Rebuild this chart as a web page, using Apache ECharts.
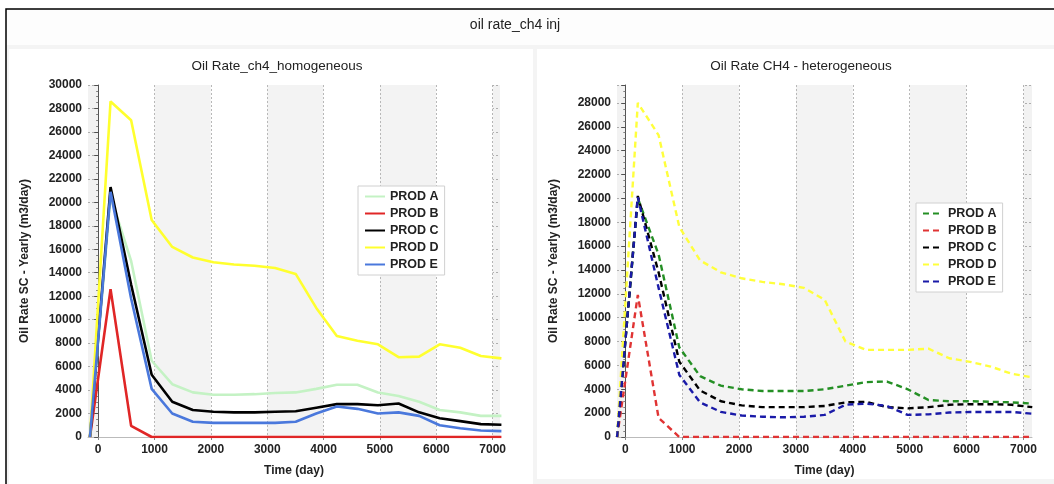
<!DOCTYPE html>
<html>
<head>
<meta charset="utf-8">
<script src="https://cdn.jsdelivr.net/npm/echarts@6/dist/echarts.min.js"></script>
<style>
html,body{margin:0;padding:0;background:#fff;}
#c{width:1054px;height:484px;}
</style>
</head>
<body>
<div id="c"></div>
<script>
// ---- data ----
const timeDays = [-145, 220, 585, 950, 1315, 1680, 2045, 2410, 2775, 3140, 3505, 3870, 4235, 4600, 4965, 5330, 5695, 6060, 6425, 6790, 7155];
const producers = ['PROD A', 'PROD B', 'PROD C', 'PROD D', 'PROD E'];

// homogeneous case
const homA = [0, 20500, 15000, 6500, 4500, 3800, 3600, 3600, 3650, 3750, 3800, 4100, 4450, 4450, 3800, 3500, 3000, 2300, 2100, 1800, 1800];
const homB = [0, 12600, 950, 0, 0, 0, 0, 0, 0, 0, 0, 0, 0, 0, 0, 0, 0, 0, 0, 0, 0];
const homC = [0, 21300, 13000, 5300, 3000, 2300, 2150, 2100, 2100, 2150, 2200, 2500, 2800, 2800, 2700, 2850, 2100, 1600, 1350, 1100, 1050];
const homD = [0, 28600, 27000, 18500, 16200, 15300, 14900, 14700, 14600, 14400, 13900, 11000, 8600, 8200, 7900, 6800, 6850, 7900, 7600, 6900, 6700];
const homE = [0, 20900, 11800, 4100, 2000, 1300, 1200, 1200, 1200, 1200, 1300, 2000, 2600, 2400, 2000, 2100, 1800, 1000, 750, 550, 500];

// heterogeneous case
const hetA = [0, 20000, 15300, 7500, 5100, 4300, 4000, 3850, 3850, 3850, 4000, 4300, 4600, 4650, 4000, 3100, 3000, 3000, 2950, 2900, 2800];
const hetB = [0, 11900, 1600, 0, 0, 0, 0, 0, 0, 0, 0, 0, 0, 0, 0, 0, 0, 0, 0, 0, 0];
const hetC = [0, 20200, 13800, 6300, 3900, 3000, 2650, 2500, 2500, 2500, 2600, 2900, 2950, 2500, 2400, 2500, 2700, 2750, 2750, 2700, 2500];
const hetD = [0, 28000, 25300, 17600, 14800, 13800, 13300, 13000, 12800, 12500, 11500, 8000, 7300, 7300, 7300, 7400, 6600, 6300, 5900, 5300, 5000];
const hetE = [0, 20100, 12500, 5200, 2900, 2100, 1800, 1700, 1650, 1700, 1850, 2700, 2800, 2600, 1850, 1900, 2050, 2100, 2100, 2100, 1950];

const xTickLabels = [0, 1000, 2000, 3000, 4000, 5000, 6000, 7000];

const mainTitle = 'oil rate_ch4 inj';
const leftTitle = 'Oil Rate_ch4_homogeneous';
const rightTitle = 'Oil Rate CH4 - heterogeneous';
const yName = 'Oil Rate SC - Yearly (m3/day)';
const xName = 'Time (day)';

// ---- styles ----
const homColors = ['#c4f2c4', '#e02626', '#000000', '#ffff2e', '#4a78dc'];
const hetColors = ['#248f24', '#e03434', '#000000', '#ffff3c', '#1a1aa8'];
const homData = [homA, homB, homC, homD, homE];
const hetData = [hetA, hetB, hetC, hetD, hetE];

function pairs(vals) { return timeDays.map((t, i) => [t, vals[i]]); }

const font = 'Liberation Sans, Arial, sans-serif';
const xRanges = [[-180, 7130], [-146, 7150]];

function xAxis(gi) {
  return {
    type: 'value', gridIndex: gi, min: xRanges[gi][0], max: xRanges[gi][1],
    name: xName, nameLocation: 'middle', nameGap: 28,
    nameTextStyle: { fontWeight: 'bold', fontSize: 12, color: '#222', fontFamily: font },
    axisLine: { show: true, onZero: false, lineStyle: { color: '#bbb' } },
    axisTick: { show: true, length: 3, lineStyle: { color: '#888' }, customValues: xTickLabels },
    axisLabel: { fontWeight: 'bold', fontSize: 12, color: '#222', fontFamily: font, margin: 7,
      customValues: xTickLabels, formatter: v => String(v) },
    splitLine: { show: true, lineStyle: { color: '#b8b8b8', type: [2, 2], width: 1 } },
    splitArea: { show: true, areaStyle: { color: ['#ffffff', '#f3f3f3'] } }
  };
}
function yAxis(gi, max) {
  return {
    type: 'value', gridIndex: gi, min: 0, max: max, interval: 2000,
    name: yName, nameLocation: 'middle', nameGap: 57, nameRotate: 90,
    nameTextStyle: { fontWeight: 'bold', fontSize: 12, color: '#222', fontFamily: font },
    axisLine: { show: true, lineStyle: { color: '#555', width: 1 } },
    axisTick: { show: true, length: 4, lineStyle: { color: '#555' } },
    minorTick: { show: true, splitNumber: 4, length: 2, lineStyle: { color: '#888' } },
    axisLabel: { fontWeight: 'bold', fontSize: 12, color: '#222', fontFamily: font, margin: 6,
      formatter: v => (v % 2000 === 0 ? String(v) : '') },
    splitLine: { show: true, lineStyle: { color: '#b8b8b8', type: [2, 2], width: 1 } }
  };
}

function edgeBands(gi) {
  return {
    silent: true,
    itemStyle: { color: 'rgba(0,0,0,0.05)' },
    data: [
      [{ xAxis: xRanges[gi][0] }, { xAxis: 0 }],
      [{ xAxis: 7000 }, { xAxis: xRanges[gi][1] }]
    ]
  };
}

const series = [];
producers.forEach((p, i) => {
  const s = {
    name: p, type: 'line', xAxisIndex: 0, yAxisIndex: 0, data: pairs(homData[i]),
    showSymbol: false, symbol: 'none', color: homColors[i], z: 3,
    lineStyle: { width: 2.6, color: homColors[i] }
  };
  if (i === 0) s.markArea = edgeBands(0);
  series.push(s);
});
producers.forEach((p, i) => {
  const s = {
    name: p + '|het', type: 'line', xAxisIndex: 1, yAxisIndex: 1, data: pairs(hetData[i]),
    showSymbol: false, symbol: 'none', color: hetColors[i], z: 3,
    lineStyle: { width: 2.4, color: hetColors[i], type: [6, 4] }
  };
  if (i === 0) s.markArea = edgeBands(1);
  series.push(s);
});

const legendBase = {
  orient: 'vertical', itemWidth: 20, itemHeight: 10, itemGap: 4,
  backgroundColor: '#fff', borderColor: '#d0d0d0', borderWidth: 1,
  padding: [4, 6, 4, 6], selectedMode: false,
  itemStyle: { color: 'rgba(0,0,0,0)', borderWidth: 0, opacity: 0 },
  textStyle: { fontWeight: 'bold', fontSize: 12.5, color: '#222', fontFamily: font },
  formatter: n => n.split('|')[0]
};

const option = {
  animation: false,
  backgroundColor: '#fff',
  graphic: [
    { type: 'rect', shape: { x: 6, y: 9, width: 1054, height: 480 }, style: { fill: '#f4f4f4', stroke: '#000', lineWidth: 1.5 }, z: -10 },
    { type: 'rect', shape: { x: 7, y: 10, width: 1047, height: 35 }, style: { fill: '#fdfdfd' }, z: -9 },
    { type: 'rect', shape: { x: 9, y: 49, width: 524, height: 435 }, style: { fill: '#ffffff' }, z: -9 },
    { type: 'rect', shape: { x: 537, y: 49, width: 517, height: 430 }, style: { fill: '#ffffff' }, z: -9 }
  ],
  title: [
    { text: mainTitle, left: 510, top: 13, textAlign: 'center', textStyle: { fontSize: 14, fontWeight: 'normal', color: '#222', fontFamily: font } },
    { text: leftTitle, left: 272, top: 54, textAlign: 'center', textStyle: { fontSize: 13.5, fontWeight: 'normal', color: '#222', fontFamily: font } },
    { text: rightTitle, left: 796, top: 54, textAlign: 'center', textStyle: { fontSize: 13.5, fontWeight: 'normal', color: '#222', fontFamily: font } }
  ],
  grid: [
    { left: 88, top: 85, width: 412, height: 352, containLabel: false },
    { left: 617, top: 85, width: 415, height: 352, containLabel: false }
  ],
  xAxis: [xAxis(0), xAxis(1)],
  yAxis: [yAxis(0, 30000), yAxis(1, 29500)],
  legend: [
    Object.assign({}, legendBase, { left: 358, top: 186, data: producers }),
    Object.assign({}, legendBase, { left: 916, top: 203, data: producers.map(p => p + '|het') })
  ],
  series: series
};

const chart = echarts.init(document.getElementById('c'), null, { renderer: 'canvas' });
chart.setOption(option);
</script>
</body>
</html>
